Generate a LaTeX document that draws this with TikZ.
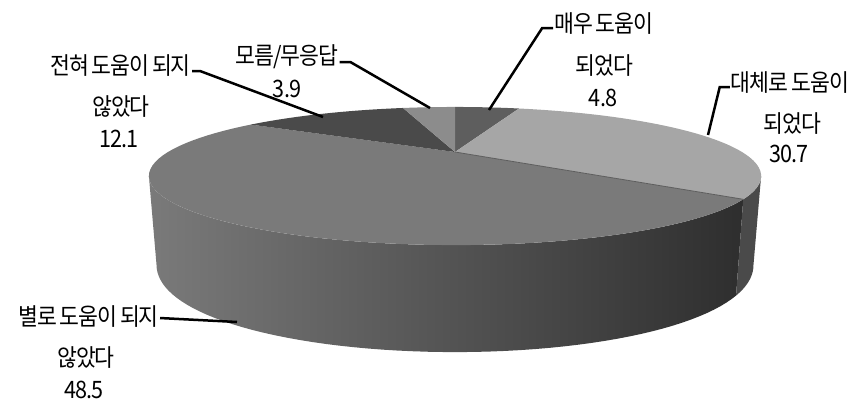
\documentclass[tikz,border=0pt]{standalone}
\usepackage{fontspec}
\setmainfont{Noto Sans CJK KR}[LetterSpace=-4,FakeStretch=0.9,WordSpace=0.7]
\definecolor{sA}{HTML}{5E5E5E}
\definecolor{sB}{HTML}{A6A6A6}
\definecolor{sC}{HTML}{7A7A7A}
\definecolor{sD}{HTML}{4A4A4A}
\definecolor{sE}{HTML}{8C8C8C}
\definecolor{sideL}{HTML}{7A7A7A}
\definecolor{sideR}{HTML}{2E2E2E}
\definecolor{sideB}{HTML}{4A4A4A}
\begin{document}
\begin{tikzpicture}[x=1pt,y=-1pt,
  declare function={
    xt(\a)=455+287*sin(\a)/(1+0.348*cos(\a));
    yt(\a)=(152-7.8*cos(\a))/(1+0.348*cos(\a));
    hh(\a)=89+27.6*(-cos(\a)-0.348);
    xb(\a)=455+(xt(\a)-455)*0.975;
    yb(\a)=yt(\a)+hh(\a);
  },
  lbl/.style={font=\fontsize{24}{28}\selectfont, inner sep=1pt, anchor=base},
  leader/.style={line width=2.5pt, black},
  arc/.style={samples=60, variable=\a}
]
\useasboundingbox (0,0) rectangle (862,401);
\coordinate (o) at (455,152);
% sides
\shade[left color=sideL, right color=sideR]
  plot[arc, domain=127.8:249.6] ({xt(\a)},{yt(\a)})
  -- plot[arc, domain=249.6:127.8] ({xb(\a)},{yb(\a)}) -- cycle;
\fill[sideB]
  plot[arc, domain=110.4:127.8] ({xt(\a)},{yt(\a)})
  -- plot[arc, domain=127.8:110.4] ({xb(\a)},{yb(\a)}) -- cycle;
% top slices
\fill[sA] (o) -- plot[arc, domain=0:17.28] ({xt(\a)},{yt(\a)}) -- cycle;
\fill[sB] (o) -- plot[arc, domain=17.28:127.8] ({xt(\a)},{yt(\a)}) -- cycle;
\fill[sC] (o) -- plot[arc, domain=127.8:302.4] ({xt(\a)},{yt(\a)}) -- cycle;
\fill[sD] (o) -- plot[arc, domain=302.4:345.96] ({xt(\a)},{yt(\a)}) -- cycle;
\fill[sE] (o) -- plot[arc, domain=345.96:360] ({xt(\a)},{yt(\a)}) -- cycle;
\draw[sA, line width=0.8pt] (o) -- ({xt(127.8)},{yt(127.8)});
% labels
\node[lbl] (a1) at (604,33) {매우 도움이};
\node[lbl] (a2) at (604,75) {되었다};
\node[lbl] (a3) at (603,107) {4.8};
\node[lbl] (b1) at (790,92) {대체로 도움이};
\node[lbl] (b2) at (792,133) {되었다};
\node[lbl] (b3) at (789,163) {30.7};
\node[lbl] (c1) at (88.5,325) {별로 도움이 되지};
\node[lbl] (c2) at (86,366) {않았다};
\node[lbl] (c3) at (84,398) {48.5};
\node[lbl] (d1) at (120.5,75) {전혀 도움이 되지};
\node[lbl] (d2) at (121,116) {않았다};
\node[lbl] (d3) at (119,148) {12.1};
\node[lbl] (e1) at (287,65) {모름/무응답};
\node[lbl] (e2) at (287,98) {3.9};
% leader ends
\coordinate (pa) at (489,110);
\coordinate (pb) at (708,135);
\coordinate (pc) at (237,322);
\coordinate (pd) at (323,117);
\coordinate (pe) at (430,108);
\draw[leader] ([yshift=-4pt]a1.west) -- ++(-11,0) -- (pa);
\draw[leader] ([yshift=-4pt]b1.west) -- ++(-10,0) -- (pb);
\draw[leader] ([yshift=-2pt]c1.east) -- (pc);
\draw[leader] ([yshift=-5pt]d1.east) -- ++(8,0) -- (pd);
\draw[leader] ([yshift=-5pt]e1.east) -- ++(11,0) -- (pe);
\end{tikzpicture}
\end{document}
